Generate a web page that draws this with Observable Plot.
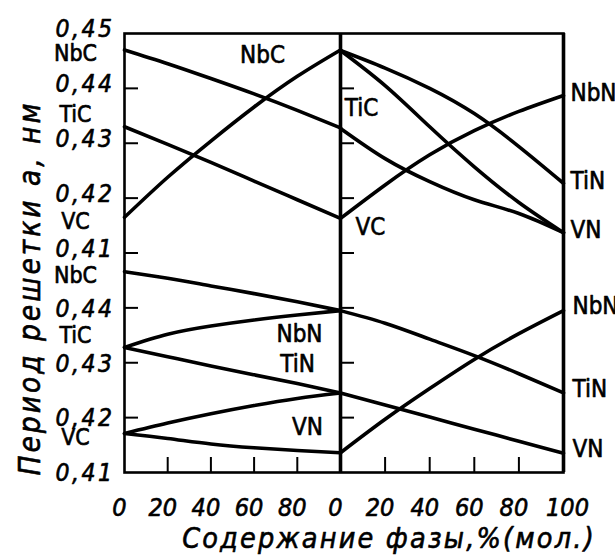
<!DOCTYPE html>
<html>
<head>
<meta charset="utf-8">
<script src="https://cdn.jsdelivr.net/npm/d3@7"></script>
<script src="https://cdn.jsdelivr.net/npm/@observablehq/plot@0.6"></script>
<style>
  html, body { margin: 0; padding: 0; background: #fff; }
  g[font-size="24.5"][font-style="italic"] text { letter-spacing: 2.5px; }
  g[font-size="28.5"][font-style="italic"] text { letter-spacing: 2.2px; }
  g[font-size="29.5"][font-style="italic"] text { letter-spacing: 3px; }
</style>
</head>
<body>
<div id="chart"></div>
<script>
// x positions (% of the second phase) at which each curve is read
const xPct = [0, 20, 40, 60, 80, 100];

// upper block, left half: carbide–carbide systems (nm)
const nbcTic = [0.4470, 0.4445, 0.4418, 0.4390, 0.4360, 0.4328];
const vcNbc  = [0.4165, 0.4238, 0.4304, 0.4366, 0.4422, 0.4470];
const ticVc  = [0.4330, 0.4298, 0.4265, 0.4231, 0.4197, 0.4163];
// upper block, right half: carbide–nitride systems
const nbcTin = [0.4469, 0.4437, 0.4400, 0.4354, 0.4294, 0.4227];
const nbcVn  = [0.4469, 0.4405, 0.4330, 0.4257, 0.4192, 0.4137];
const ticVn  = [0.4327, 0.4272, 0.4230, 0.4197, 0.4172, 0.4137];
const vcNbn  = [0.4163, 0.4224, 0.4279, 0.4323, 0.4358, 0.4387];
// lower block, left half: carbide–nitride systems
const nbcNbn = [0.4466, 0.4454, 0.4440, 0.4426, 0.4411, 0.4395];
const ticNbn = [0.4328, 0.4352, 0.4367, 0.4378, 0.4387, 0.4395];
const ticTin = [0.4328, 0.4311, 0.4294, 0.4278, 0.4262, 0.4245];
const vcTin  = [0.4171, 0.4190, 0.4207, 0.4222, 0.4235, 0.4245];
const vcVn   = [0.4171, 0.4162, 0.4152, 0.4145, 0.4140, 0.4136];
// lower block, right half: nitride–nitride systems
const nbnTin = [0.4395, 0.4372, 0.4343, 0.4313, 0.4280, 0.4245];
const tinVn  = [0.4245, 0.4223, 0.4201, 0.4179, 0.4157, 0.4135];
const vnNbn  = [0.4136, 0.4197, 0.4253, 0.4306, 0.4353, 0.4395];

// axis ticks / labels
const yTicksUpper = [0.41, 0.42, 0.43, 0.44, 0.45];
const yTicksLower = [0.41, 0.42, 0.43, 0.44];
const xTicksLeft  = [0, 20, 40, 60, 80];
const xTicksRight = [0, 20, 40, 60, 80, 100];

// compounds marked on the left axis
const leftNames = ["NbC", "TiC", "VC"];
const leftUpper = [0.4470, 0.4330, 0.4165];
const leftLower = [0.4466, 0.4328, 0.4171];

const yTitle = "Период решетки а, нм";
const xTitle = "Содержание фазы,%(мол.)";

// ---- build tables ----
const SHIFT = 0.04; // lower block is drawn 0.04 below the upper one on a shared scale
const series = [
  {id: "NbC-TiC", block: "upper", half: 0, v: nbcTic},
  {id: "VC-NbC",  block: "upper", half: 0, v: vcNbc},
  {id: "TiC-VC",  block: "upper", half: 0, v: ticVc},
  {id: "NbC-TiN", block: "upper", half: 1, v: nbcTin},
  {id: "NbC-VN",  block: "upper", half: 1, v: nbcVn},
  {id: "TiC-VN",  block: "upper", half: 1, v: ticVn},
  {id: "VC-NbN",  block: "upper", half: 1, v: vcNbn},
  {id: "NbC-NbN", block: "lower", half: 0, v: nbcNbn},
  {id: "TiC-NbN", block: "lower", half: 0, v: ticNbn},
  {id: "TiC-TiN", block: "lower", half: 0, v: ticTin},
  {id: "VC-TiN",  block: "lower", half: 0, v: vcTin},
  {id: "VC-VN",   block: "lower", half: 0, v: vcVn},
  {id: "NbN-TiN", block: "lower", half: 1, v: nbnTin},
  {id: "TiN-VN",  block: "lower", half: 1, v: tinVn},
  {id: "VN-NbN",  block: "lower", half: 1, v: vnNbn}
];
const off = b => (b === "lower" ? SHIFT : 0);
const rows = series.flatMap(s => xPct.map((p, i) => ({
  id: s.id, x: s.half * 100 + p, y: s.v[i] - off(s.block)
})));

const fmt = v => v.toFixed(2).replace(".", ",");
const yLabelsUpper = yTicksUpper.map(v => ({y: v, label: fmt(v)}));
const yLabelsLower = yTicksLower.map(v => ({y: v - SHIFT, label: fmt(v)}));
const tickYs = [
  ...yTicksUpper.filter(v => v < 0.45),
  ...yTicksLower.filter(v => v > 0.41).map(v => v - SHIFT)
];
const xLabels = [
  ...xTicksLeft.map(v => ({x: v, label: String(v)})),
  ...xTicksRight.map(v => ({x: 100 + v, label: String(v)}))
];
const xTickPos = [
  ...xTicksLeft.filter(v => v > 0),
  ...xTicksRight.filter(v => v > 0 && v < 100).map(v => 100 + v)
];
const leftComp = [
  ...leftNames.map((n, i) => ({name: n, y: leftUpper[i]})),
  ...leftNames.map((n, i) => ({name: n, y: leftLower[i] - SHIFT}))
];

// end-point compounds
const upperMidNbC = nbcTin[0], upperMidTiC = ticVn[0], upperMidVC = vcNbn[0];
const lowerMidNbN = nbnTin[0] - SHIFT, lowerMidTiN = tinVn[0] - SHIFT, lowerMidVN = vnNbn[0] - SHIFT;
const upperEnd = [
  {name: "NbN", y: vcNbn[5]}, {name: "TiN", y: nbcTin[5]}, {name: "VN", y: nbcVn[5]}
];
const lowerEnd = [
  {name: "NbN", y: vnNbn[5] - SHIFT}, {name: "TiN", y: nbnTin[5] - SHIFT}, {name: "VN", y: tinVn[5] - SHIFT}
];

const FONT = "'DejaVu Sans Condensed', 'DejaVu Sans', sans-serif";
const LBL = 24;
const ink = {fill: "black", stroke: "black", strokeWidth: 0.6};

const chart = Plot.plot({
  width: 615,
  height: 557,
  marginTop: 33,
  marginBottom: 85,
  marginLeft: 124,
  marginRight: 52,
  x: {type: "linear", domain: [0, 100, 200], range: [124, 340, 563], axis: null},
  y: {type: "linear", domain: [0.37, 0.45], axis: null},
  style: {fontFamily: FONT, color: "black", background: "white", overflow: "hidden"},
  marks: [
    // curves
    Plot.line(rows, {x: "x", y: "y", z: "id", curve: "natural", stroke: "black", strokeWidth: 3.6, strokeLinecap: "round"}),
    // frame and dividers
    Plot.frame({stroke: "black", strokeWidth: 2.6}),
    Plot.ruleX([100, 200], {stroke: "black", strokeWidth: 3.6}),
    // inward ticks on left axis and on middle divider
    Plot.ruleY(tickYs, {y: d => d, x1: 0, x2: 0, insetRight: -14, stroke: "black", strokeWidth: 2}),
    Plot.ruleY(tickYs, {y: d => d, x1: 100, x2: 100, insetRight: -14, stroke: "black", strokeWidth: 2}),
    // inward ticks on bottom axis
    Plot.ruleX(xTickPos, {x: d => d, y1: 0.37, y2: 0.37, insetTop: -15, stroke: "black", strokeWidth: 2}),
    // y tick labels
    Plot.text(yLabelsUpper, {x: 0, y: "y", text: "label", textAnchor: "end", dx: -10, dy: -4, fontSize: 24.5, fontStyle: "italic", ...ink}),
    Plot.text(yLabelsLower, {x: 0, y: "y", text: "label", textAnchor: "end", dx: -10, dy: 1, fontSize: 24.5, fontStyle: "italic", ...ink}),
    // x tick labels
    Plot.text(xLabels.filter(d => d.x < 200), {x: "x", text: "label", frameAnchor: "bottom", lineAnchor: "middle", dy: 35, dx: -5, fontSize: 25, fontStyle: "italic", ...ink}),
    Plot.text(xLabels.filter(d => d.x === 200), {x: "x", text: "label", frameAnchor: "bottom", lineAnchor: "middle", dy: 35, dx: 4, fontSize: 25, fontStyle: "italic", ...ink}),
    // compounds on left axis
    Plot.text(leftComp.filter(d => d.name !== "TiC"), {x: 0, y: "y", text: "name", dx: -49, dy: 4, fontSize: 23, ...ink}),
    Plot.text(leftComp.filter(d => d.name === "TiC"), {x: 0, y: "y", text: "name", dx: -49, dy: -12, fontSize: 23, ...ink}),
    // labels at the middle divider, upper block
    Plot.text([{n: "NbC", y: upperMidNbC}], {x: 100, y: "y", text: "n", dx: -78, dy: 5, fontSize: LBL, ...ink}),
    Plot.text([{n: "TiC", y: upperMidTiC}], {x: 100, y: "y", text: "n", dx: 21, dy: -20, fontSize: LBL, ...ink}),
    Plot.text([{n: "VC", y: upperMidVC}], {x: 100, y: "y", text: "n", dx: 30, dy: 9, fontSize: LBL, ...ink}),
    // labels at the middle divider, lower block
    Plot.text([{n: "NbN", y: lowerMidNbN}], {x: 100, y: "y", text: "n", dx: -41, dy: 24, fontSize: LBL, ...ink}),
    Plot.text([{n: "TiN", y: lowerMidTiN}], {x: 100, y: "y", text: "n", dx: -43, dy: -29, fontSize: LBL, ...ink}),
    Plot.text([{n: "VN", y: lowerMidVN}], {x: 100, y: "y", text: "n", dx: -33, dy: -25, fontSize: LBL, ...ink}),
    // labels at the right edge
    Plot.text(upperEnd, {x: 200, y: "y", text: "name", textAnchor: "start", dx: 7, dy: -2, fontSize: LBL, ...ink}),
    Plot.text(lowerEnd, {x: 200, y: "y", text: "name", textAnchor: "start", dx: 9, dy: -4, fontSize: LBL, ...ink}),
    // axis titles
    Plot.text([xTitle], {frameAnchor: "bottom", textAnchor: "middle", lineAnchor: "middle", dx: 45, dy: 66, fontSize: 28.5, fontStyle: "italic", ...ink}),
    Plot.text([yTitle], {frameAnchor: "left", textAnchor: "middle", lineAnchor: "middle", rotate: -90, dx: -94, dy: 35, fontSize: 29.5, fontStyle: "italic", ...ink})
  ]
});
document.getElementById("chart").appendChild(chart);
</script>
</body>
</html>
